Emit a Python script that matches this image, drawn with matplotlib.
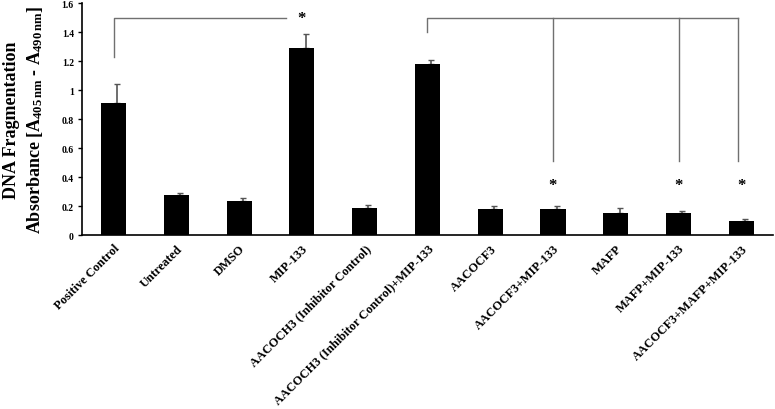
import matplotlib.pyplot as plt
import numpy as np

plt.rcParams['font.family'] = 'Liberation Serif'
plt.rcParams['mathtext.fontset'] = 'custom'
plt.rcParams['mathtext.rm'] = 'Liberation Serif:bold'
plt.rcParams['mathtext.it'] = 'Liberation Serif:bold'
plt.rcParams['mathtext.bf'] = 'Liberation Serif:bold'

# data
labels = ['Positive Control', 'Untreated', 'DMSO', 'MIP-133',
          'AACOCH3 (Inhibitor Control)', 'AACOCH3 (Inhibitor Control)+MIP-133',
          'AACOCF3', 'AACOCF3+MIP-133', 'MAFP', 'MAFP+MIP-133',
          'AACOCF3+MAFP+MIP-133']
values = [0.91, 0.275, 0.235, 1.29, 0.19, 1.18, 0.18, 0.18, 0.15, 0.155, 0.10]
errors = [0.135, 0.018, 0.02, 0.10, 0.017, 0.025, 0.02, 0.02, 0.04, 0.015, 0.01]

fig = plt.figure(figsize=(7.75, 4.1), dpi=100)
ax = fig.add_axes([0.106, 0.424, 0.891, 0.566])

x = np.arange(len(labels))
ax.bar(x, values, width=0.4, color='black', zorder=2)
ax.errorbar(x + 0.06, values, yerr=[np.zeros(len(errors)), errors], fmt='none',
            ecolor='#555555', elinewidth=1.2, capsize=2.5, capthick=1, zorder=1)

# significance brackets
gray = '#707070'
ax.plot([0, 0, 2.75], [1.23, 1.5, 1.5], color=gray, lw=1)
ax.text(3, 1.5, '*', ha='center', va='center', fontsize=12, fontweight='bold')
ax.plot([5, 5, 9.95], [1.40, 1.5, 1.5], color=gray, lw=1)
for xi in [7, 9]:
    ax.plot([xi, xi], [1.5, 0.51], color=gray, lw=1)
ax.plot([9.95, 9.95], [1.5, 0.51], color=gray, lw=1)
for xi in [7, 9, 10]:
    ax.text(xi, 0.345, '*', ha='center', va='center', fontsize=12, fontweight='bold')

ax.set_xlim(-0.5, 10.5)
ax.set_ylim(0, 1.6)
ax.set_yticks(np.arange(0, 1.61, 0.2))
ax.set_yticklabels(['0', '0.2', '0.4', '0.6', '0.8', '1', '1.2', '1.4', '1.6'],
                   fontsize=7, fontweight='bold')
ax.set_xticks(x)
ax.set_xticklabels(labels, rotation=45, ha='right', rotation_mode='anchor',
                   fontsize=9, fontweight='bold')
ax.tick_params(axis='x', length=0, pad=5)
ax.tick_params(axis='y', length=3, width=1, pad=3)
ax.spines['top'].set_visible(False)
ax.spines['right'].set_visible(False)
ax.spines['left'].set_linewidth(1.2)
ax.spines['bottom'].set_linewidth(1.2)

ax.set_ylabel('DNA Fragmentation\nAbsorbance [A$_{405\\,nm}$ - A$_{490\\,nm}$]',
              fontsize=13, fontweight='bold', linespacing=1.35, labelpad=12)

fig.savefig('out.png', dpi=100)
